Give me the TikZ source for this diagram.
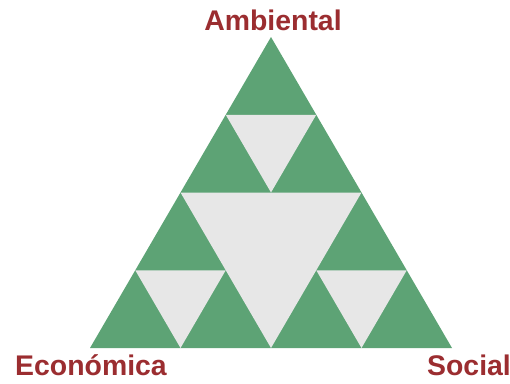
\documentclass[tikz,border=0pt]{standalone}
\usepackage{fontspec}
\setmainfont{Liberation Sans}
\usetikzlibrary{calc}
\definecolor{leafgreen}{RGB}{93,163,117}
\definecolor{holegray}{RGB}{231,231,231}
\definecolor{labelred}{RGB}{155,45,48}
\tikzset{
  pillar/.style={font=\fontsize{21.3}{24}\selectfont\bfseries, text=labelred, anchor=base, inner sep=0pt},
  hole/.style={fill=holegray, draw=none}
}
\begin{document}
\begin{tikzpicture}[x=0.75pt, y=-0.75pt]
        \useasboundingbox (0,0) rectangle (510,383);
        % Corners
        \coordinate (amb) at (271,37);
        \coordinate (eco) at (90,348);
        \coordinate (soc) at (452,348);
        \coordinate (ae) at ($(amb)!0.5!(eco)$);
        \coordinate (as) at ($(amb)!0.5!(soc)$);
        \coordinate (es) at ($(eco)!0.5!(soc)$);

        % Outer triangle
        \fill[leafgreen] (amb) -- (eco) -- (soc) -- cycle;

        % Holes
        \foreach \p/\q/\r in {amb/eco/soc, amb/ae/as, ae/eco/es, as/es/soc}
        {
          \fill[hole] ($(\p)!0.5!(\q)$) -- ($(\q)!0.5!(\r)$) -- ($(\p)!0.5!(\r)$) -- cycle;
        }

        % Labels
        \node[pillar] (ambiental) at (273,30) {Ambiental};
        \node[pillar] (economica) at (91,375) {Económica};
        \node[pillar] (social) at (469,375) {Social};
    \end{tikzpicture}
\end{document}
